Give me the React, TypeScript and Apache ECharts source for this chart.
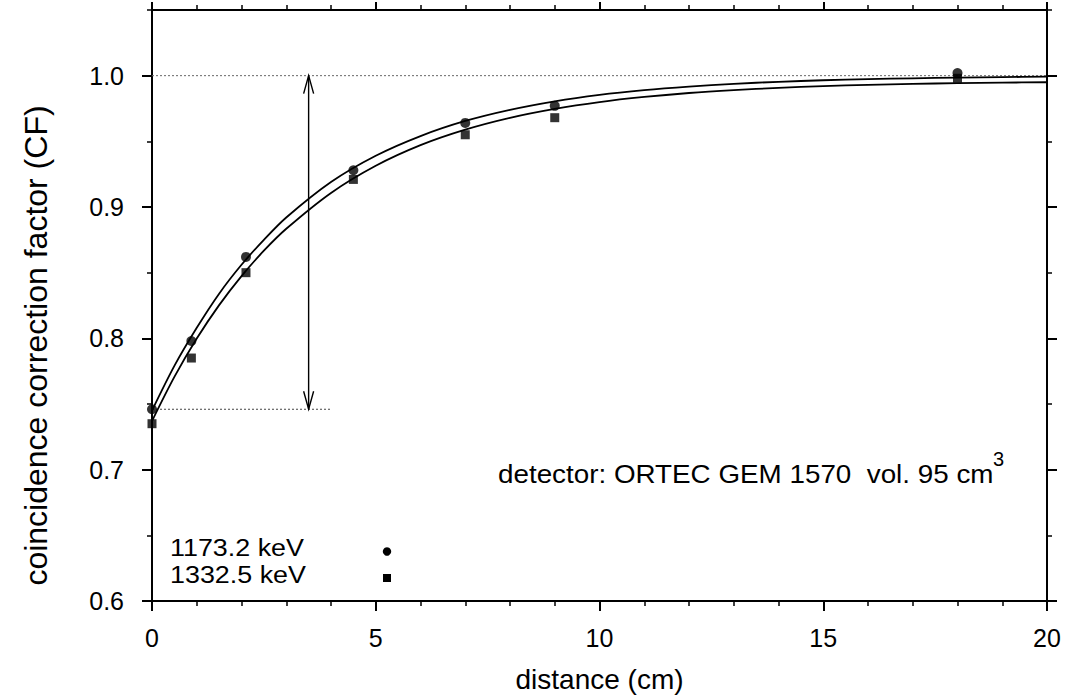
import React, { useEffect, useRef } from "react";
import * as echarts from "echarts";

// ---- data ----
const distance1173 = [0, 0.88, 2.1, 4.5, 7, 9, 18];
const cf1173 = [0.746, 0.798, 0.862, 0.928, 0.964, 0.977, 1.002];
const distance1332 = [0, 0.88, 2.1, 4.5, 7, 9, 18];
const cf1332 = [0.735, 0.785, 0.85, 0.921, 0.955, 0.968, 0.998];

const fitDistance = [0, 0.5, 1, 1.5, 2, 2.5, 3, 4, 5, 6, 7, 8, 9, 10, 11, 12, 13, 14, 15, 16, 17, 18, 19, 20];
const fit1173 = [0.745, 0.779, 0.808, 0.834, 0.856, 0.875, 0.892, 0.919, 0.939, 0.954, 0.9655, 0.974, 0.9805, 0.9854, 0.989, 0.9917, 0.9938, 0.9953, 0.9965, 0.9974, 0.998, 0.9985, 0.9989, 0.9992];
const fit1332 = [0.737, 0.7706, 0.7998, 0.8253, 0.8474, 0.8667, 0.8834, 0.9107, 0.9314, 0.9471, 0.9589, 0.9679, 0.9747, 0.9799, 0.9838, 0.9868, 0.989, 0.9907, 0.992, 0.993, 0.9937, 0.9943, 0.9947, 0.995];

const yMajorTicks = [0.6, 0.7, 0.8, 0.9, 1.0];
const yMinorTicks = [0.65, 0.75, 0.85, 0.95, 1.05];

const referenceLevel = [[0, 1.0], [20, 1.0]];
const baseLevel = [[0, 0.746], [4, 0.746]];
const arrowSpan = [[3.5, 0.746, 1.0]];

const seriesNames = ["1173.2 keV", "1332.5 keV"];
const annotationText = "detector: ORTEC GEM 1570  vol. 95 cm";
const annotationSup = "3";

const FONT = "'Liberation Sans', Arial, Helvetica, sans-serif";

function zip(xs: number[], ys: number[]) {
  return xs.map((x, i) => [x, ys[i]]);
}

export default function App() {
  const ref = useRef<HTMLDivElement>(null);

  useEffect(() => {
    if (!ref.current) return;
    const chart = echarts.init(ref.current, undefined, { renderer: "svg" });
    const black = "#000";

    const axisCommon = {
      type: "value" as const,
      splitLine: { show: false },
    };

    const minorX = {
      show: true,
      splitNumber: 5,
      length: 5,
      lineStyle: { color: black, width: 1.5 },
    };

    const xAxes = [
      {
        ...axisCommon,
        position: "bottom",
        min: 0,
        max: 20,
        interval: 5,
        axisLine: { show: true, onZero: false, lineStyle: { color: black, width: 2 } },
        axisTick: { show: true, inside: false, length: 10, lineStyle: { color: black, width: 2 } },
        minorTick: minorX,
        axisLabel: {
          show: true,
          fontSize: 25,
          fontFamily: FONT,
          color: black,
          margin: 24,
        },
        name: "distance (cm)",
        nameLocation: "middle",
        nameGap: 64,
        nameTextStyle: { fontSize: 28, fontFamily: FONT, color: black },
      },
      {
        ...axisCommon,
        position: "top",
        min: 0,
        max: 20,
        interval: 5,
        axisLine: { show: true, onZero: false, lineStyle: { color: black, width: 2 } },
        axisTick: { show: true, inside: false, length: 8, lineStyle: { color: black, width: 2 } },
        minorTick: minorX,
        axisLabel: { show: false },
      },
    ];

    const yAxes = [
      {
        ...axisCommon,
        position: "left",
        min: 0.6,
        max: 1.05,
        interval: 0.1,
        axisLine: { show: true, onZero: false, lineStyle: { color: black, width: 2 } },
        axisTick: { show: true, inside: false, length: 10, lineStyle: { color: black, width: 2 }, customValues: yMajorTicks },
        axisLabel: {
          show: true,
          customValues: yMajorTicks,
          fontSize: 25,
          fontFamily: FONT,
          color: black,
          margin: 28,
          formatter: (v: number) => v.toFixed(1),
        },
        name: "coincidence correction factor (CF)",
        nameLocation: "middle",
        nameGap: 100,
        nameTextStyle: { fontSize: 32, fontFamily: FONT, color: black, padding: [0, 80, 0, 0] },
      },
      {
        ...axisCommon,
        position: "left",
        min: 0.6,
        max: 1.05,
        interval: 0.05,
        axisLine: { show: false, onZero: false },
        axisTick: { show: true, inside: false, length: 5, lineStyle: { color: black, width: 1.5 }, customValues: yMinorTicks },
        axisLabel: { show: false },
      },
      {
        ...axisCommon,
        position: "right",
        min: 0.6,
        max: 1.05,
        interval: 0.1,
        axisLine: { show: true, onZero: false, lineStyle: { color: black, width: 2 } },
        axisTick: { show: true, inside: false, length: 10, lineStyle: { color: black, width: 2 }, customValues: yMajorTicks },
        axisLabel: { show: false },
      },
      {
        ...axisCommon,
        position: "right",
        min: 0.6,
        max: 1.05,
        interval: 0.05,
        axisLine: { show: false, onZero: false },
        axisTick: { show: true, inside: false, length: 5, lineStyle: { color: black, width: 1.5 }, customValues: yMinorTicks },
        axisLabel: { show: false },
      },
    ];

    const option: any = {
      animation: false,
      backgroundColor: "#fff",
      grid: { left: 152, right: 39, top: 10, bottom: 96, containLabel: false },
      xAxis: xAxes,
      yAxis: yAxes,
      series: [
        {
          type: "line",
          name: "reference",
          data: referenceLevel,
          symbol: "none",
          silent: true,
          lineStyle: { color: "#666", width: 1, type: [2, 2] },
          z: 1,
        },
        {
          type: "line",
          name: "base",
          data: baseLevel,
          symbol: "none",
          silent: true,
          lineStyle: { color: "#444", width: 1, type: [2, 2] },
          z: 1,
        },
        {
          type: "line",
          name: seriesNames[0] + " fit",
          data: zip(fitDistance, fit1173),
          symbol: "none",
          smooth: 0.3,
          lineStyle: { color: black, width: 1.8 },
          z: 2,
        },
        {
          type: "line",
          name: seriesNames[1] + " fit",
          data: zip(fitDistance, fit1332),
          symbol: "none",
          smooth: 0.3,
          lineStyle: { color: black, width: 1.8 },
          z: 2,
        },
        {
          type: "custom",
          name: "span",
          data: arrowSpan,
          encode: { x: 0, y: [1, 2] },
          silent: true,
          z: 3,
          renderItem: (params: any, api: any) => {
            const top = api.coord([api.value(0), api.value(2)]);
            const bot = api.coord([api.value(0), api.value(1)]);
            const hw = 5;
            const hh = 18;
            const st = { stroke: black, lineWidth: 1.4, fill: "none" };
            return {
              type: "group",
              children: [
                { type: "line", shape: { x1: top[0], y1: top[1], x2: bot[0], y2: bot[1] }, style: st },
                {
                  type: "polyline",
                  shape: { points: [[top[0] - hw, top[1] + hh], [top[0], top[1]], [top[0] + hw, top[1] + hh]] },
                  style: st,
                },
                {
                  type: "polyline",
                  shape: { points: [[bot[0] - hw, bot[1] - hh], [bot[0], bot[1]], [bot[0] + hw, bot[1] - hh]] },
                  style: st,
                },
              ],
            };
          },
        },
        {
          type: "scatter",
          name: seriesNames[0],
          data: zip(distance1173, cf1173),
          symbol: "circle",
          symbolSize: 10,
          itemStyle: { color: black },
          z: 5,
        },
        {
          type: "scatter",
          name: seriesNames[1],
          data: zip(distance1332, cf1332),
          symbol: "rect",
          symbolSize: 9,
          itemStyle: { color: black },
          z: 5,
        },
      ],
      graphic: [
        {
          type: "text",
          x: 498,
          y: 474,
          scaleX: 1.07,
          style: {
            text: annotationText,
            font: `26px ${FONT}`,
            fill: black,
            align: "left",
            verticalAlign: "middle",
          },
        },
        {
          type: "text",
          x: 993,
          y: 459,
          style: {
            text: annotationSup,
            font: `20px ${FONT}`,
            fill: black,
            align: "left",
            verticalAlign: "middle",
          },
        },
        {
          type: "text",
          x: 170,
          y: 548,
          scaleX: 1.12,
          style: { text: seriesNames[0], font: `24px ${FONT}`, fill: black, align: "left", verticalAlign: "middle" },
        },
        {
          type: "text",
          x: 170,
          y: 575,
          scaleX: 1.12,
          style: { text: seriesNames[1], font: `24px ${FONT}`, fill: black, align: "left", verticalAlign: "middle" },
        },
        {
          type: "circle",
          shape: { cx: 387, cy: 551.5, r: 4.2 },
          style: { fill: black },
        },
        {
          type: "rect",
          shape: { x: 383, y: 574, width: 8, height: 8 },
          style: { fill: black },
        },
      ],
    };

    chart.setOption(option);
    return () => chart.dispose();
  }, []);

  return (
    <div
      ref={ref}
      style={{ position: "absolute", left: 0, top: 0, width: 1086, height: 698, background: "#fff" }}
    />
  );
}
